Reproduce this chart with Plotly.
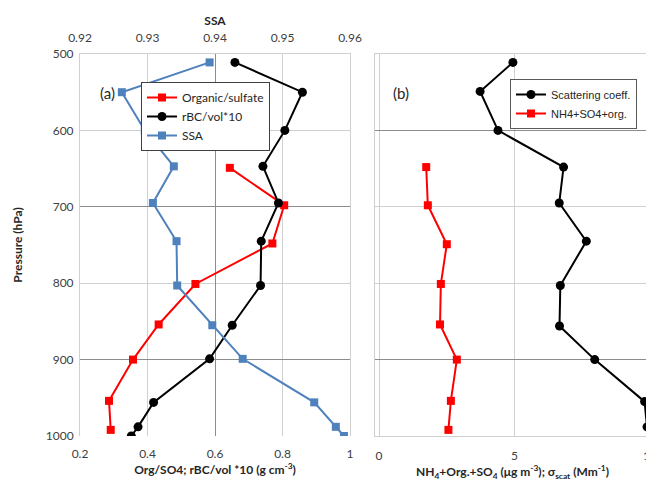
import plotly.graph_objects as go

# ---- Panel (a) data ----
p_org = [649, 698, 748, 801, 854, 900, 954, 992]
org_sulfate = [0.644, 0.805, 0.77, 0.542, 0.433, 0.357, 0.286, 0.291]

p_rbc = [511, 550, 600, 647, 695, 745, 803, 855, 899, 956, 988, 1000]
rbc_vol10 = [0.659, 0.859, 0.807, 0.742, 0.788, 0.737, 0.735, 0.651, 0.584, 0.418, 0.372, 0.352]

p_ssa = [511, 550, 600, 647, 695, 745, 803, 855, 899, 956, 988, 1000]
ssa = [0.9392, 0.9262, 0.9296, 0.9339, 0.9308, 0.9343, 0.9344, 0.9396, 0.9441, 0.9547, 0.9579, 0.9591]

# ---- Panel (b) data ----
p_scat = [511, 549, 600, 648, 695, 745, 803, 856, 900, 955, 988]
scat = [4.94, 3.73, 4.39, 6.81, 6.65, 7.65, 6.69, 6.66, 7.96, 9.80, 9.89]

p_mass = [648, 698, 749, 801, 854, 900, 954, 992]
mass = [1.74, 1.80, 2.50, 2.28, 2.25, 2.87, 2.65, 2.56]

# ticks
pressure_ticks = [500, 600, 700, 800, 900, 1000]
ratio_ticks = [0.2, 0.4, 0.6, 0.8, 1.0]
ratio_labels = ["0.2", "0.4", "0.6", "0.8", "1"]
ssa_ticks = [0.92, 0.93, 0.94, 0.95, 0.96]
ssa_labels = ["0.92", "0.93", "0.94", "0.95", "0.96"]
b_ticks = [0, 5, 10]

RED = "#ff0000"
BLUE = "#4f81bd"
BLACK = "#000000"
LIGHT = "#d0d0d0"
DARK = "#8c8c8c"
TICKC = "#404040"
FONT = "Lato, 'Open Sans', sans-serif"

# page body has an 8px margin: figure is drawn offset by (8, 8)
OFF = 8
W, H = 654 - OFF, 486 - OFF
L, T, B, R = 80 - OFF, 54 - OFF, 50, 4
PW = W - L - R          # 570
PH = H - T - B          # 382

def px(xpix):
    return (xpix - 80) / PW

def py(ypix):
    return (436 - ypix) / PH

fig = go.Figure()

fig.add_trace(go.Scatter(x=org_sulfate, y=p_org, mode="lines+markers", name="Organic/sulfate",
                         line=dict(color=RED, width=2), marker=dict(symbol="square", size=8, color=RED),
                         xaxis="x", yaxis="y", legend="legend"))
fig.add_trace(go.Scatter(x=rbc_vol10, y=p_rbc, mode="lines+markers", name="rBC/vol*10",
                         line=dict(color=BLACK, width=2), marker=dict(symbol="circle", size=9, color=BLACK),
                         xaxis="x", yaxis="y", legend="legend"))
fig.add_trace(go.Scatter(x=ssa, y=p_ssa, mode="lines+markers", name="SSA",
                         line=dict(color=BLUE, width=2), marker=dict(symbol="square", size=8, color=BLUE),
                         xaxis="x2", yaxis="y", legend="legend"))

fig.add_trace(go.Scatter(x=scat, y=p_scat, mode="lines+markers", name="Scattering coeff.",
                         line=dict(color=BLACK, width=2), marker=dict(symbol="circle", size=9, color=BLACK),
                         xaxis="x4", yaxis="y2", legend="legend2"))
fig.add_trace(go.Scatter(x=mass, y=p_mass, mode="lines+markers", name="NH4+SO4+org.",
                         line=dict(color=RED, width=2), marker=dict(symbol="square", size=8, color=RED),
                         xaxis="x4", yaxis="y2", legend="legend2"))

# empty traces to activate helper grid axes
fig.add_trace(go.Scatter(x=[], y=[], xaxis="x3", yaxis="y3", showlegend=False, hoverinfo="skip"))
fig.add_trace(go.Scatter(x=[], y=[], xaxis="x4", yaxis="y4", showlegend=False, hoverinfo="skip"))

dom_a = [0, 270 / PW]
dom_b = [295 / PW, 1]

tickfont = dict(family=FONT, size=12, color=TICKC)
titlefont = dict(family=FONT, size=12, color="#262626")

fig.update_layout(
    width=W, height=H,
    margin=dict(l=L, r=R, t=T, b=B, autoexpand=False),
    paper_bgcolor="white", plot_bgcolor="white",
    font=dict(family=FONT, size=12, color=TICKC),
    xaxis=dict(domain=dom_a, range=[0.2, 1.0], tickvals=ratio_ticks, ticktext=ratio_labels,
               showgrid=True, gridcolor=LIGHT, gridwidth=1, zeroline=False,
               showline=False, ticks="", tickfont=tickfont, anchor="y", ticklabelstandoff=9,
               title=dict(text="<b>Org/SO4; rBC/vol *10 (g cm<sup>-3</sup>)</b>", font=titlefont, standoff=2)),
    xaxis2=dict(range=[0.92, 0.96], tickvals=ssa_ticks, ticktext=ssa_labels, overlaying="x",
                side="top", anchor="y", showgrid=False, zeroline=False, showline=True,
                linecolor=LIGHT, ticks="", tickfont=tickfont, ticklabelstandoff=6,
                title=dict(text="<b>SSA</b>", font=titlefont, standoff=2)),
    xaxis3=dict(range=[0.2, 1.0], tickvals=[0.6], overlaying="x", anchor="y3",
                showgrid=True, gridcolor=DARK, showticklabels=False, zeroline=False, showline=False),
    yaxis=dict(domain=[0, 1], range=[1000, 500], tickvals=pressure_ticks,
               showgrid=True, gridcolor=LIGHT, zeroline=False, showline=True, linecolor=LIGHT,
               mirror=True, ticks="", tickfont=tickfont, anchor="x", ticklabelstandoff=3,
               title=dict(text="<b>Pressure (hPa)</b>", font=titlefont, standoff=20)),
    yaxis3=dict(range=[1000, 500], tickvals=[700, 900], overlaying="y", anchor="x3",
                showgrid=True, gridcolor=DARK, showticklabels=False, zeroline=False, showline=False),
    xaxis4=dict(domain=dom_b, range=[-0.15, 10.0], tickvals=b_ticks, anchor="y2",
                showgrid=True, gridcolor=LIGHT, zeroline=False, showline=True, linecolor=LIGHT,
                mirror=True, ticks="", tickfont=tickfont, ticklabelstandoff=9,
                ticklabeloverflow="allow",
                title=dict(text="<b>NH<sub>4</sub>+Org.+SO<sub>4</sub> (\u03bcg m<sup>-3</sup>); \u03c3<sub>scat</sub> (Mm<sup>-1</sup>)</b>",
                           font=titlefont, standoff=2)),
    yaxis2=dict(domain=[0, 1], range=[1000, 500], tickvals=pressure_ticks, anchor="x4",
                showgrid=True, gridcolor=LIGHT, zeroline=False, showline=True, linecolor=LIGHT,
                showticklabels=False, ticks=""),
    yaxis4=dict(range=[1000, 500], tickvals=[600, 900], overlaying="y2", anchor="x4", side="right",
                showgrid=True, gridcolor=DARK, showticklabels=False, zeroline=False,
                showline=True, linecolor="#595959", linewidth=1.5),
    legend=dict(x=px(141), y=py(82), xanchor="left", yanchor="top",
                bgcolor="white", bordercolor="#404040", borderwidth=1,
                font=dict(family=FONT, size=12, color="#262626"), tracegroupgap=0,
                itemwidth=30),
    legend2=dict(x=px(510), y=py(79), xanchor="left", yanchor="top",
                 bgcolor="white", bordercolor="#595959", borderwidth=1,
                 font=dict(family="Liberation Sans, Arial, sans-serif", size=11, color="#262626"),
                 itemwidth=30),
    annotations=[
        dict(text="(a)", x=px(98), y=py(82), xref="paper", yref="paper",
             showarrow=False, font=dict(family=FONT, size=15, color="#262626")),
        dict(text="(b)", x=px(401), y=py(82), xref="paper", yref="paper",
             showarrow=False, font=dict(family=FONT, size=15, color="#262626")),
    ],
    showlegend=True,
)

fig.write_html("out.html")
